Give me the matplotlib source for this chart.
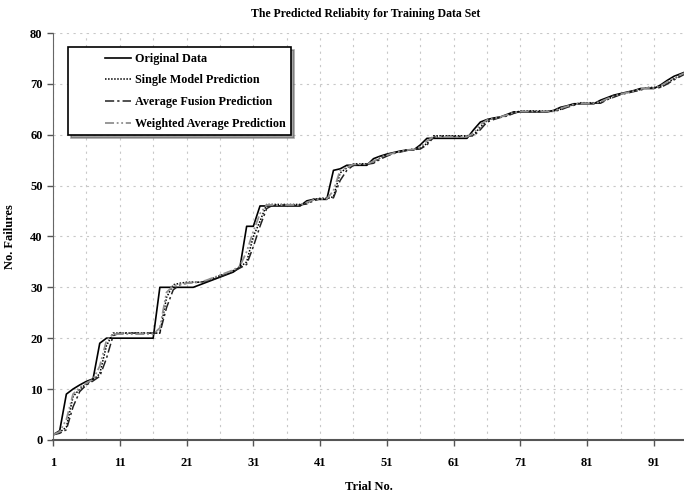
import numpy as np
import matplotlib
matplotlib.use('Agg')
import matplotlib.pyplot as plt
from matplotlib.legend_handler import HandlerLine2D

plt.rcParams['font.family'] = ['Liberation Serif', 'DejaVu Serif']
plt.rcParams['font.weight'] = 'bold'

trials = list(range(1, 97))

original = [1.0, 1.8, 9.0, 10.0, 10.8, 11.5, 12.0, 19.0, 20.0, 20.0,
            20.0, 20.0, 20.0, 20.0, 20.0, 20.0, 30.0, 30.0, 30.0, 30.0,
            30.0, 30.0, 30.5, 31.0, 31.5, 32.0, 32.5, 33.0, 34.0, 42.0,
            42.0, 46.0, 46.0, 46.0, 46.0, 46.0, 46.0, 46.0, 47.0, 47.3,
            47.3, 47.3, 53.0, 53.3, 54.0, 54.0, 54.0, 54.0, 55.3, 55.8,
            56.2, 56.5, 56.8, 57.0, 57.0, 58.0, 59.3, 59.3, 59.3, 59.3,
            59.3, 59.3, 59.3, 61.0, 62.5, 63.0, 63.3, 63.5, 64.0, 64.5,
            64.5, 64.5, 64.5, 64.5, 64.5, 64.8, 65.4, 65.7, 66.1, 66.1,
            66.1, 66.1, 66.8, 67.3, 67.8, 68.1, 68.4, 68.7, 69.1, 69.1,
            69.1, 69.8, 70.7, 71.5, 72.0, 72.5]

single = [1.0, 1.5, 2.5, 8.5, 10.0, 11.0, 11.8, 13.0, 18.5, 21.0,
          21.0, 21.0, 21.0, 21.0, 21.0, 21.0, 21.0, 28.0, 30.5, 30.8,
          31.0, 31.0, 31.0, 31.3, 31.8, 32.3, 32.8, 33.3, 34.0, 35.0,
          40.0, 43.0, 46.3, 46.3, 46.3, 46.3, 46.3, 46.3, 46.5, 47.3,
          47.5, 47.5, 47.8, 52.5, 53.5, 54.3, 54.3, 54.3, 54.5, 55.5,
          56.0, 56.4, 56.7, 57.0, 57.2, 57.3, 58.3, 59.8, 59.8, 59.8,
          59.8, 59.8, 59.8, 60.0, 61.5, 62.8, 63.2, 63.5, 63.8, 64.3,
          64.7, 64.7, 64.7, 64.7, 64.7, 64.7, 65.0, 65.5, 65.9, 66.3,
          66.3, 66.3, 66.3, 67.0, 67.5, 68.0, 68.3, 68.6, 68.9, 69.3,
          69.3, 69.4, 70.2, 71.0, 71.7, 72.3]

avg_fusion = [1.0, 1.3, 2.0, 6.5, 9.5, 10.8, 11.6, 12.5, 16.0, 20.5,
              21.0, 21.0, 21.0, 21.0, 21.0, 21.0, 21.0, 26.0, 29.5, 30.5,
              30.8, 31.0, 31.0, 31.2, 31.6, 32.1, 32.6, 33.1, 33.8, 34.5,
              38.0, 42.0, 45.5, 46.2, 46.2, 46.2, 46.2, 46.2, 46.4, 47.0,
              47.4, 47.5, 47.6, 51.0, 53.0, 54.0, 54.2, 54.2, 54.4, 55.2,
              55.8, 56.3, 56.6, 56.9, 57.1, 57.2, 58.0, 59.5, 59.7, 59.7,
              59.7, 59.7, 59.7, 59.8, 61.0, 62.5, 63.0, 63.4, 63.7, 64.2,
              64.6, 64.6, 64.6, 64.6, 64.6, 64.6, 64.9, 65.4, 65.8, 66.2,
              66.2, 66.2, 66.2, 66.9, 67.4, 67.9, 68.2, 68.5, 68.8, 69.2,
              69.2, 69.3, 70.0, 70.8, 71.5, 72.2]

weighted = [1.0, 1.6, 4.0, 9.0, 10.3, 11.2, 11.9, 14.5, 19.5, 20.8,
            20.8, 20.8, 20.8, 20.8, 20.8, 20.8, 22.0, 29.0, 30.3, 30.6,
            30.8, 30.9, 31.0, 31.4, 31.9, 32.4, 32.9, 33.4, 34.2, 37.0,
            41.0, 44.5, 46.2, 46.2, 46.2, 46.2, 46.2, 46.2, 46.7, 47.2,
            47.4, 47.4, 49.0, 53.0, 53.6, 54.2, 54.2, 54.2, 54.8, 55.6,
            56.0, 56.4, 56.7, 57.0, 57.1, 57.6, 58.8, 59.6, 59.6, 59.6,
            59.6, 59.6, 59.6, 60.3, 62.0, 62.9, 63.2, 63.5, 63.9, 64.4,
            64.6, 64.6, 64.6, 64.6, 64.6, 64.7, 65.2, 65.6, 66.0, 66.2,
            66.2, 66.2, 66.5, 67.1, 67.6, 68.0, 68.3, 68.6, 69.0, 69.2,
            69.2, 69.6, 70.4, 71.2, 71.8, 72.4]


# legend line sits in the right part of the handle box (Excel style)
class RightHandler(HandlerLine2D):
    def create_artists(self, legend, orig_handle, xdescent, ydescent,
                       width, height, fontsize, trans):
        artists = super().create_artists(legend, orig_handle, xdescent, ydescent,
                                         width, height, fontsize, trans)
        for a in artists:
            x = np.asarray(a.get_xdata(), dtype=float)
            a.set_xdata(x * 0.45 + width * 0.55)
        return artists


my_dpi = 100
fig = plt.figure(figsize=(684/my_dpi, 501/my_dpi), dpi=my_dpi)
ax = fig.add_axes([0.0775, 0.122, 0.9225, 0.812])

ax.plot(trials, original, color='black', linestyle='-', linewidth=1.2, label='Original Data')
ax.plot(trials, single, color='black', linestyle=(0, (1, 1)), linewidth=1.1, label='Single Model Prediction')
ax.plot(trials, avg_fusion, color='#222222', linestyle=(0, (6, 2, 1.5, 2)), linewidth=1.1, label='Average Fusion Prediction')
ax.plot(trials, weighted, color='#909090', linestyle=(0, (5, 1.5, 1, 1.5, 1, 1.5)), linewidth=1.3, label='Weighted Average Prediction')

ax.set_xlim(1, 95.5)
ax.set_ylim(0, 80)
ax.set_xticks(np.arange(1, 96, 10))
ax.set_xticks(np.arange(1, 96, 5), minor=True)
ax.set_yticks(np.arange(0, 81, 10))
ax.tick_params(axis='x', which='minor', length=0)
ax.tick_params(axis='both', which='major', labelsize=9, length=4, color='#555555', width=1)
ax.tick_params(axis='x', pad=8)
for lbl in ax.get_xticklabels() + ax.get_yticklabels():
    lbl.set_fontweight('bold')

ax.grid(True, which='both', axis='x', color='#c8c8c8', linestyle=(0, (2, 4)), linewidth=0.8)
ax.grid(True, which='major', axis='y', color='#c8c8c8', linestyle=(0, (2, 4)), linewidth=0.8)
ax.set_axisbelow(True)

ax.spines['top'].set_visible(False)
ax.spines['right'].set_visible(False)
ax.spines['left'].set_color('#666666')
ax.spines['bottom'].set_color('#555555')
ax.spines['bottom'].set_linewidth(1.5)

ax.set_xlabel('Trial No.', fontsize=9, fontweight='bold', labelpad=9)
ax.set_ylabel('No. Failures', fontsize=9, fontweight='bold', labelpad=10)
fig.text(0.535, 0.972, 'The Predicted Reliabity for Training Data Set', ha='center', va='center',
         fontsize=8.5, fontweight='bold')

leg = ax.legend(loc='upper left', bbox_to_anchor=(0.0235, 0.965), frameon=True,
                fancybox=False, shadow=True, edgecolor='black', handlelength=4.8,
                handletextpad=0.3, borderpad=0.45, labelspacing=0.8,
                borderaxespad=0.0, prop={'weight': 'bold', 'size': 8.7},
                handler_map={matplotlib.lines.Line2D: RightHandler()})
leg.get_frame().set_linewidth(1.2)

plt.savefig('out.png', dpi=my_dpi)
